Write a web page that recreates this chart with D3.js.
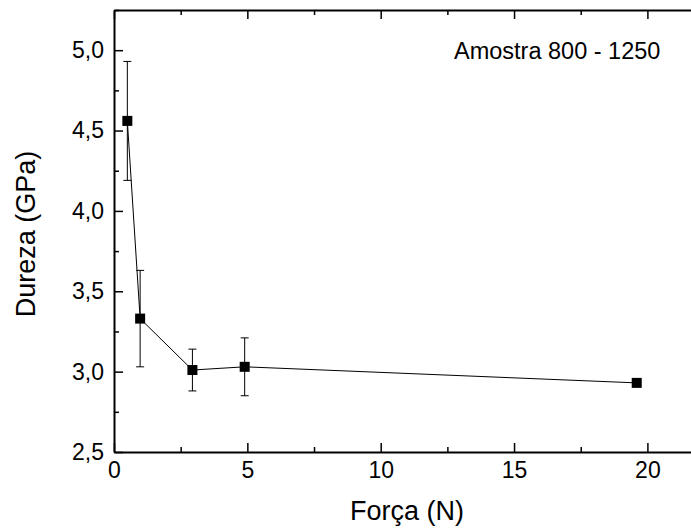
<!DOCTYPE html>
<html>
<head>
<meta charset="utf-8">
<script src="https://cdn.jsdelivr.net/npm/d3@7"></script>
<style>
  body { margin: 0; background: #fff; }
  svg, svg text { font-family: "Liberation Sans", Arial, sans-serif; }
</style>
</head>
<body>
<script>
var width = 691, height = 529;
var left = 114, top_ = 10, bottom = 452;

// Dados: força (N), dureza (GPa), barra de erro (GPa)
var forca = [0.5, 0.98, 2.94, 4.9, 19.6];
var dureza = [4.56, 3.33, 3.01, 3.03, 2.93];
var erro = [0.37, 0.30, 0.13, 0.18, 0];

var xMajor = [0, 5, 10, 15, 20];
var xMinor = [2.5, 7.5, 12.5, 17.5];
var yMajor = [2.5, 3.0, 3.5, 4.0, 4.5, 5.0];
var yMinor = [2.75, 3.25, 3.75, 4.25, 4.75, 5.25];

var data = forca.map(function(f, i) { return {f: f, d: dureza[i], e: erro[i]}; });

var svg = d3.select('body').append('svg').attr('width', width).attr('height', height);

var xScale = d3.scaleLinear().domain([0, 22]).range([left, left + 22 * 26.67]);
var yScale = d3.scaleLinear().domain([2.5, 5.25]).range([bottom, top_]);

var fmt = function(d) { return d.toFixed(1).replace('.', ','); };

function styleAxis(g) {
	g.attr('font-family', null).attr('font-size', null);
	g.select('.domain').attr('stroke', '#000').attr('stroke-width', 2);
	g.selectAll('.tick line').attr('stroke', '#000').attr('stroke-width', 1.5);
	g.selectAll('.tick text').attr('fill', '#000').style('font-size', '23px');
}

// eixo x (baixo)
var gx = svg.append('g').attr('transform', 'translate(0,' + bottom + ')')
	.call(d3.axisBottom(xScale).tickValues(xMajor).tickFormat(d3.format('d'))
		.tickSizeInner(-9).tickSizeOuter(0).tickPadding(10));
styleAxis(gx);
var gxm = svg.append('g').attr('transform', 'translate(0,' + bottom + ')')
	.call(d3.axisBottom(xScale).tickValues(xMinor).tickFormat('').tickSizeInner(-5).tickSizeOuter(0));
styleAxis(gxm);
gxm.select('.domain').remove();

// eixo x (topo)
var gt = svg.append('g').attr('transform', 'translate(0,' + top_ + ')')
	.call(d3.axisTop(xScale).tickValues(xMajor).tickFormat('').tickSizeInner(-9).tickSizeOuter(0));
styleAxis(gt);
var gtm = svg.append('g').attr('transform', 'translate(0,' + top_ + ')')
	.call(d3.axisTop(xScale).tickValues(xMinor).tickFormat('').tickSizeInner(-5).tickSizeOuter(0));
styleAxis(gtm);
gtm.select('.domain').remove();

// eixo y
var gy = svg.append('g').attr('transform', 'translate(' + left + ',0)')
	.call(d3.axisLeft(yScale).tickValues(yMajor).tickFormat(fmt)
		.tickSizeInner(-9).tickSizeOuter(0).tickPadding(10));
styleAxis(gy);
var gym = svg.append('g').attr('transform', 'translate(' + left + ',0)')
	.call(d3.axisLeft(yScale).tickValues(yMinor).tickFormat('').tickSizeInner(-5).tickSizeOuter(0));
styleAxis(gym);
gym.select('.domain').remove();

// linha
svg.append('path').datum(data)
	.attr('fill', 'none').attr('stroke', '#000').attr('stroke-width', 1)
	.attr('d', d3.line().x(d => xScale(d.f)).y(d => yScale(d.d)));

// barras de erro
var eb = svg.append('g').selectAll('g').data(data.filter(d => d.e > 0)).enter().append('g')
	.attr('stroke', '#000').attr('stroke-width', 1);
eb.append('line')
	.attr('x1', d => xScale(d.f)).attr('x2', d => xScale(d.f))
	.attr('y1', d => yScale(d.d - d.e)).attr('y2', d => yScale(d.d + d.e));
eb.append('line')
	.attr('x1', d => xScale(d.f) - 4).attr('x2', d => xScale(d.f) + 4)
	.attr('y1', d => yScale(d.d + d.e)).attr('y2', d => yScale(d.d + d.e));
eb.append('line')
	.attr('x1', d => xScale(d.f) - 4).attr('x2', d => xScale(d.f) + 4)
	.attr('y1', d => yScale(d.d - d.e)).attr('y2', d => yScale(d.d - d.e));

// pontos
svg.append('g').selectAll('rect').data(data).enter().append('rect')
	.attr('x', d => xScale(d.f) - 5).attr('y', d => yScale(d.d) - 5)
	.attr('width', 10).attr('height', 10).attr('fill', '#000');

// textos
svg.append('text').attr('x', 454).attr('y', 59)
	.style('font-size', '23.5px').text('Amostra 800 - 1250');

svg.append('text').attr('x', 407).attr('y', 520)
	.attr('text-anchor', 'middle').style('font-size', '27px').text('Força (N)');

svg.append('text').attr('transform', 'translate(35,234) rotate(-90)')
	.attr('text-anchor', 'middle').style('font-size', '27px').text('Dureza (GPa)');
</script>
</body>
</html>
